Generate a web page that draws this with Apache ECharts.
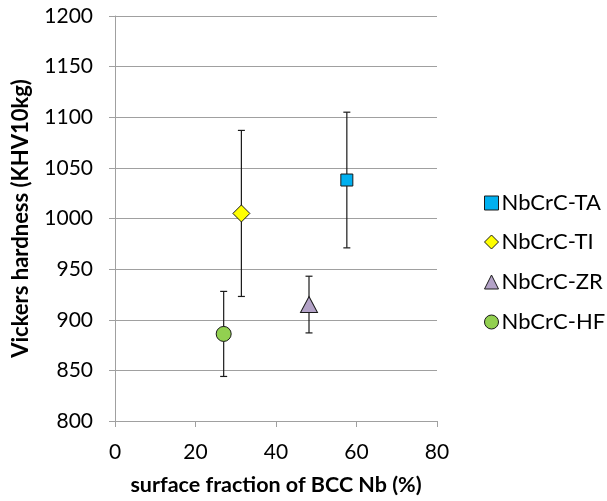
<!DOCTYPE html>
<html>
<head>
<meta charset="utf-8">
<script src="https://cdn.jsdelivr.net/npm/echarts@6/dist/echarts.min.js"></script>
<style>html,body{margin:0;padding:0;background:#fff}#c{width:607px;height:501px}</style>
</head>
<body>
<div id="c"></div>
<script>
var names = ['NbCrC-TA', 'NbCrC-TI', 'NbCrC-ZR', 'NbCrC-HF'];
var xValues = [57.6, 31.4, 48.2, 27.0];
var yValues = [1038, 1005, 915, 886];
var yLow = [971, 923, 887, 844];
var yHigh = [1105, 1087, 943, 928];
var symbols = ['rect', 'diamond', 'triangle', 'circle'];
var symbolSizes = [[12, 12], [17, 17], [17, 16], [15, 15]];
var colors = ['#00b0f0', '#ffff00', '#b3a2c7', '#92d050'];
var legendTops = [187, 226, 266, 306];

var FONT = 'Lato';
var chart = echarts.init(document.getElementById('c'));

var series = [];
var errData = [];
for (var i = 0; i < names.length; i++) {
  errData.push([xValues[i], yLow[i], yHigh[i]]);
}
series.push({
  type: 'custom',
  name: 'err',
  z: 1,
  silent: true,
  data: errData,
  renderItem: function (params, api) {
    var x = api.value(0);
    var lo = api.coord([x, api.value(1)]);
    var hi = api.coord([x, api.value(2)]);
    var cap = 3.5;
    var st = { stroke: '#1a1a1a', lineWidth: 1.2 };
    return {
      type: 'group',
      children: [
        { type: 'line', shape: { x1: lo[0], y1: lo[1], x2: hi[0], y2: hi[1] }, style: st },
        { type: 'line', shape: { x1: lo[0] - cap, y1: lo[1], x2: lo[0] + cap, y2: lo[1] }, style: st },
        { type: 'line', shape: { x1: hi[0] - cap, y1: hi[1], x2: hi[0] + cap, y2: hi[1] }, style: st }
      ]
    };
  }
});
for (var j = 0; j < names.length; j++) {
  series.push({
    type: 'scatter',
    name: names[j],
    z: 3,
    symbol: symbols[j],
    symbolSize: symbolSizes[j],
    itemStyle: { color: colors[j], borderColor: '#1a1a1a', borderWidth: 1, opacity: 1 },
    data: [[xValues[j], yValues[j]]]
  });
}

var legends = [];
for (var k = 0; k < names.length; k++) {
  legends.push({
    data: [{ name: names[k], icon: symbols[k] }],
    left: 479,
    top: legendTops[k],
    orient: 'vertical',
    itemWidth: 14,
    itemHeight: 14,
    itemGap: 6,
    selectedMode: false,
    textStyle: { fontFamily: FONT, fontSize: 22, color: '#000', padding: [0, 0, 0, -2] },
    itemStyle: { borderColor: '#1a1a1a', borderWidth: 1 }
  });
}

chart.setOption({
  animation: false,
  backgroundColor: '#fff',
  grid: { left: 115, right: 170, top: 16, bottom: 78 },
  legend: legends,
  xAxis: {
    type: 'value',
    min: 0, max: 80, interval: 20,
    name: 'surface fraction of BCC Nb (%)',
    nameLocation: 'middle',
    nameGap: 53,
    nameTextStyle: { fontFamily: FONT, fontSize: 21.5, fontWeight: 'bold', color: '#000' },
    axisLine: { show: true, lineStyle: { color: '#a0a0a0', width: 1 } },
    axisTick: { show: true, length: 6, lineStyle: { color: '#a0a0a0' } },
    axisLabel: { fontFamily: FONT, fontSize: 21, color: '#000', margin: 21 },
    splitLine: { show: false }
  },
  yAxis: {
    type: 'value',
    min: 800, max: 1200, interval: 50,
    name: 'Vickers hardness (KHV10kg)',
    nameLocation: 'middle',
    nameGap: 83,
    nameTextStyle: { fontFamily: FONT, fontSize: 22, fontWeight: 'bold', color: '#000' },
    axisLine: { show: true, lineStyle: { color: '#a0a0a0', width: 1 } },
    axisTick: { show: true, length: 6, lineStyle: { color: '#a0a0a0' } },
    axisLabel: { fontFamily: FONT, fontSize: 21, color: '#000', margin: 22, formatter: function (v) { return String(v); } },
    splitLine: { show: true, lineStyle: { color: '#a0a0a0', width: 1 } }
  },
  series: series
});
</script>
</body>
</html>
